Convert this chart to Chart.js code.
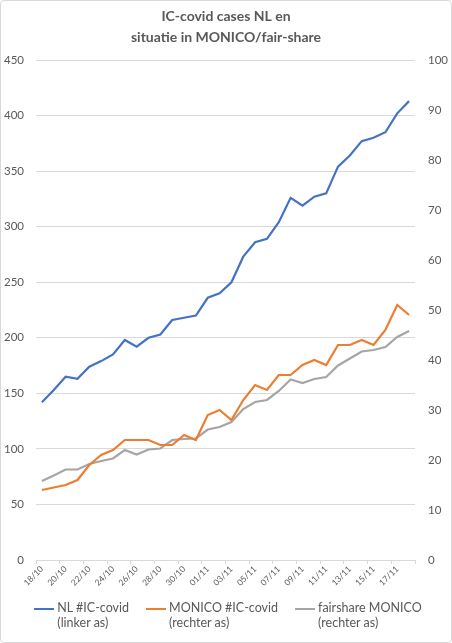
<!DOCTYPE html>
<html><head><meta charset="utf-8">
<script src="https://cdn.jsdelivr.net/npm/chart.js@4.4.1/dist/chart.umd.min.js"></script>
<style>
html,body{margin:0;padding:0;background:#fff;}
#wrap{position:relative;width:452px;height:643px;overflow:hidden;}
#c{position:absolute;left:0;top:0;}
#frame{position:absolute;left:0;top:0;width:450px;height:641px;border:1px solid #d9d9d9;border-radius:4px;pointer-events:none;}
#legend{position:absolute;left:2px;top:601px;width:452px;display:flex;justify-content:center;gap:17px;font-family:Lato,'Open Sans',sans-serif;font-size:12.5px;color:#595959;line-height:14.5px;}
.item{display:flex;align-items:flex-start;}
.swatch{width:20px;height:2.5px;margin-top:6.5px;margin-right:3px;flex:none;}
</style></head><body>
<div id="wrap"><canvas id="c" width="452" height="643"></canvas><div id="legend"></div><div id="frame"></div></div>
<script>
const dates = ['18/10','19/10','20/10','21/10','22/10','23/10','24/10','25/10','26/10','27/10','28/10','29/10','30/10','31/10',
  '01/11','02/11','03/11','04/11','05/11','06/11','07/11','08/11','09/11','10/11','11/11','12/11','13/11','14/11','15/11','16/11','17/11','18/11'];
const nlIC = [142,153,165,163,174,179,185,198,192,200,203,216,218,220,236,240,250,273,286,289,304,326,319,327,330,354,364,377,380,385,402,413];
const monicoIC = [14,14.5,15,16,19,21,22,24,24,24,23,23,25,24,29,30,28,32,35,34,37,37,39,40,39,43,43,44,43,46,51,49];
const fairshare = [15.8,16.9,18.1,18.1,19.2,19.8,20.3,22,21.1,22.1,22.3,24,24.2,24.3,26.1,26.6,27.6,30.2,31.6,32,33.8,36.1,35.4,36.2,36.6,38.9,40.3,41.7,42,42.6,44.6,45.8];
const seriesNames = ['NL #IC-covid','MONICO #IC-covid','fairshare MONICO'];
const axisNotes = ['(linker as)','(rechter as)','(rechter as)'];
const titleLines = ['IC-covid cases NL en','situatie in MONICO/fair-share'];
const leftAxis = {min:0, max:450, step:50};
const rightAxis = {min:0, max:100, step:10};

const FONT = 'Lato, "Open Sans", sans-serif';
const TXT = '#595959';
const GRID = '#d9d9d9';
const colors = ['#4472C4','#ED7D31','#A5A5A5'];

const chart = new Chart(document.getElementById('c'), {
  type: 'line',
  data: {
    labels: dates,
    datasets: [
      {label: seriesNames[0], data: nlIC, yAxisID: 'yL', borderColor: colors[0], backgroundColor: colors[0], borderWidth: 2.2, pointRadius: 0, tension: 0},
      {label: seriesNames[1], data: monicoIC, yAxisID: 'yR', borderColor: colors[1], backgroundColor: colors[1], borderWidth: 2.2, pointRadius: 0, tension: 0},
      {label: seriesNames[2], data: fairshare, yAxisID: 'yR', borderColor: colors[2], backgroundColor: colors[2], borderWidth: 2.2, pointRadius: 0, tension: 0}
    ]
  },
  options: {
    responsive: false,
    animation: false,
    layout: {padding: {top: 0, left: 0, right: 0, bottom: 55}},
    plugins: {
      legend: {display: false},
      tooltip: {enabled: false},
      title: {
        display: true, text: titleLines, color: TXT,
        font: {family: FONT, size: 14, weight: 'bold', lineHeight: 1.5},
        padding: {top: 6, bottom: 12}
      }
    },
    scales: {
      x: {
        type: 'category', offset: true,
        afterFit: s => { s.height = 28; },
        border: {display: true, color: GRID, width: 1},
        grid: {
          offset: true, drawOnChartArea: false, drawTicks: true, tickLength: 4,
          color: ctx => (ctx.index === undefined || ctx.index % 2 === 0) ? GRID : 'rgba(0,0,0,0)'
        },
        ticks: {
          autoSkip: false, minRotation: 45, maxRotation: 45, padding: 0,
          color: TXT, font: {family: FONT, size: 8.5},
          callback: (v, i) => (i % 2 === 0 ? dates[i] : '')
        }
      },
      yL: {
        type: 'linear', position: 'left', min: leftAxis.min, max: leftAxis.max,
        afterFit: s => { s.width = 36; },
        border: {display: false},
        grid: {color: GRID, lineWidth: 1, drawTicks: false},
        ticks: {stepSize: leftAxis.step, padding: 12, color: TXT, font: {family: FONT, size: 11.5}}
      },
      yR: {
        type: 'linear', position: 'right', min: rightAxis.min, max: rightAxis.max,
        afterFit: s => { s.width = 37; },
        border: {display: false},
        grid: {drawOnChartArea: false, drawTicks: false},
        ticks: {stepSize: rightAxis.step, padding: 13, color: TXT, font: {family: FONT, size: 11.5}}
      }
    }
  }
});

const legend = document.getElementById('legend');
chart.data.datasets.forEach((ds, i) => {
  const item = document.createElement('div'); item.className = 'item';
  const sw = document.createElement('div'); sw.className = 'swatch'; sw.style.background = ds.borderColor;
  const tx = document.createElement('div');
  tx.innerHTML = ds.label + '<br>' + axisNotes[i];
  item.appendChild(sw); item.appendChild(tx); legend.appendChild(item);
});
</script>
</body></html>
